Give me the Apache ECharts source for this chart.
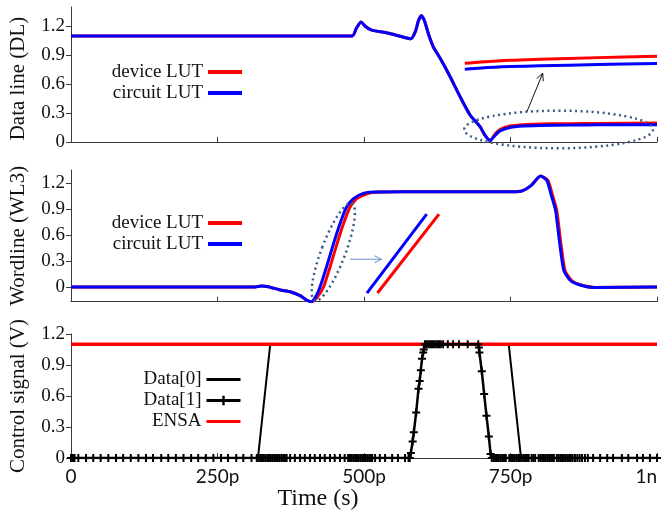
<!DOCTYPE html>
<html><head><meta charset="utf-8">
<script src="https://cdn.jsdelivr.net/npm/echarts@6/dist/echarts.min.js"></script>
<style>html,body{margin:0;padding:0;background:#fff}#c{width:662px;height:512px}</style>
</head><body><div id="c"></div>
<script>
// ---------------- data (time in ps) ----------------
const xTickValues = [0, 250, 500, 750, 1000];
const xTickLabels = ['0', '250p', '500p', '750p', '1n'];
const yTickValues = [0, 0.3, 0.6, 0.9, 1.2];

// Data line (DL)
const dlTimeDevice  = [0, 480, 487, 495, 502, 513, 540, 560, 580, 588, 593, 598, 603, 610, 618, 630, 647, 664, 681, 698, 706, 715, 724, 732, 749, 772, 800, 850, 900, 1000];
const dlDevice      = [1.1, 1.1, 1.18, 1.245, 1.2, 1.16, 1.13, 1.1, 1.07, 1.15, 1.26, 1.31, 1.26, 1.12, 0.99, 0.868, 0.677, 0.47, 0.28, 0.159, 0.073, 0.015, 0.085, 0.13, 0.165, 0.18, 0.186, 0.19, 0.193, 0.197];
const dlTimeCircuit = [0, 480, 487, 495, 502, 513, 540, 560, 580, 588, 593, 598, 603, 610, 618, 630, 647, 664, 681, 698, 706, 715, 724, 732, 749, 772, 800, 850, 900, 1000];
const dlCircuit     = [1.1, 1.1, 1.18, 1.245, 1.2, 1.16, 1.13, 1.1, 1.07, 1.15, 1.26, 1.31, 1.26, 1.12, 0.99, 0.868, 0.677, 0.47, 0.28, 0.159, 0.073, 0.015, 0.07, 0.115, 0.15, 0.165, 0.17, 0.175, 0.178, 0.18];
// magnified inset of the DL tail
const dlZoomTime    = [672, 700, 750, 800, 900, 1000];
const dlZoomDevice  = [0.816, 0.83, 0.848, 0.858, 0.875, 0.89];
const dlZoomCircuit = [0.754, 0.768, 0.782, 0.79, 0.803, 0.815];

// Wordline (WL3)
const wlTimeDevice  = [0, 314, 325, 335, 357, 374, 391, 402, 411, 420, 431, 442, 454, 465, 476, 488, 508, 525, 567, 755, 770, 785, 802, 814, 822, 829, 836, 843, 854, 872, 894, 1000];
const wlDevice      = [0, 0, 0.01, 0.005, -0.035, -0.055, -0.1, -0.15, -0.17, -0.12, 0, 0.23, 0.5, 0.73, 0.92, 1.02, 1.08, 1.095, 1.1, 1.1, 1.11, 1.17, 1.28, 1.23, 1.05, 0.88, 0.5, 0.19, 0.077, 0.02, -0.005, 0];
const wlTimeCircuit = [0, 314, 325, 335, 357, 374, 391, 402, 410, 417, 425, 436, 448, 459, 470, 482, 499, 516, 567, 755, 770, 785, 801, 812, 820, 827, 834, 841, 852, 870, 892, 1000];
const wlCircuit     = [0, 0, 0.01, 0.005, -0.035, -0.055, -0.1, -0.15, -0.17, -0.12, 0, 0.23, 0.5, 0.73, 0.92, 1.02, 1.08, 1.095, 1.1, 1.1, 1.11, 1.17, 1.28, 1.23, 1.05, 0.88, 0.5, 0.19, 0.077, 0.02, -0.005, 0];
// magnified inset of the WL rising edge
const wlZoomTimeDevice  = [523, 628];
const wlZoomDevice      = [-0.07, 0.84];
const wlZoomTimeCircuit = [505, 607];
const wlZoomCircuit     = [-0.07, 0.84];

// Control signals
const d0Time   = [0, 319, 340, 747, 768, 1000];
const d0Value  = [0, 0, 1.1, 1.1, 0, 0];
const ensaTime  = [0, 1000];
const ensaValue = [1.1, 1.1];
const d1Time = [0, 2, 4, 6, 12.5, 25.6, 38, 50.7, 63.7, 76.8, 89, 102, 115, 128, 140, 154, 166, 179, 192, 205, 217, 230, 243, 256, 268, 282, 294, 308,
  317, 320, 323, 326, 329, 332, 335, 338, 341, 344, 347, 350, 353, 356, 359, 362, 365, 368,
  374, 382, 391, 399, 408, 416, 425, 433, 442, 450, 459, 467,
  473, 476, 479, 482, 485, 488, 491, 494, 497, 500, 503, 506, 509, 512, 514,
  519, 527, 536, 548, 558, 570, 576,
  578, 580, 583, 585, 589, 593, 595, 597, 599, 601, 602, 604,
  607, 610, 613, 616, 619, 622, 625, 628, 631, 635, 643, 652, 662, 677, 695,
  696, 697, 701, 705, 709, 713, 716,
  718, 721, 724, 727, 730, 733, 736, 739, 742, 748, 751, 754, 757, 760, 763, 766, 769, 772, 775, 778, 781, 786, 789, 792, 798, 801, 804, 807, 810, 813, 816, 819, 822, 824, 829, 832, 835, 838, 841, 844, 847, 850, 853, 856,
  860, 864, 868, 872, 877, 882, 891, 903, 915, 925, 940, 951, 966, 976, 988, 1000];
const d1Value = [0, 0, 0, 0, 0, 0, 0, 0, 0, 0, 0, 0, 0, 0, 0, 0, 0, 0, 0, 0, 0, 0, 0, 0, 0, 0, 0, 0,
  0, 0, 0, 0, 0, 0, 0, 0, 0, 0, 0, 0, 0, 0, 0, 0, 0, 0,
  0, 0, 0, 0, 0, 0, 0, 0, 0, 0, 0, 0,
  0, 0, 0, 0, 0, 0, 0, 0, 0, 0, 0, 0, 0, 0, 0,
  0, 0, 0, 0, 0, 0, 0,
  0, 0.05, 0.16, 0.25, 0.44, 0.67, 0.745, 0.85, 0.96, 1.02, 1.05, 1.1,
  1.1, 1.1, 1.1, 1.1, 1.1, 1.1, 1.1, 1.1, 1.1, 1.1, 1.1, 1.1, 1.1, 1.1, 1.1,
  1.07, 1.02, 0.84, 0.62, 0.41, 0.21, 0.04,
  0, 0, 0, 0, 0, 0, 0, 0, 0, 0, 0, 0, 0, 0, 0, 0, 0, 0, 0, 0, 0, 0, 0, 0, 0, 0, 0, 0, 0, 0, 0, 0, 0, 0, 0, 0, 0, 0, 0, 0, 0, 0, 0, 0,
  0, 0, 0, 0, 0, 0, 0, 0, 0, 0, 0, 0, 0, 0, 0, 0];

// annotations (data coordinates)
const dlEllipseBox = [[671, 0.325], [993, -0.065]];
const dlArrow = [[778, 0.314], [805, 0.713]];
const wlEllipseCenter = [447.6, 0.404];
const wlArrow = [[476, 0.32], [530, 0.32]];

// ---------------- chart ----------------
const zip = (a, b) => a.map((v, i) => [v, b[i]]);
const RED = '#ff0000', BLUE = '#0000ff', AX = '#3a3a3a', TXT = '#111';
const serif = 'Liberation Serif';

function yAxisCfg(gi, name, min, max, extra) {
  return Object.assign({
    type: 'value', gridIndex: gi, min: min, max: max, name: name,
    nameLocation: 'middle', nameGap: 42,
    nameTextStyle: { fontFamily: serif, fontSize: 21, color: TXT },
    axisLine: { show: true, lineStyle: { color: AX, width: 1 } },
    axisTick: { show: true, inside: false, length: 5, customValues: yTickValues, lineStyle: { color: AX } },
    axisLabel: { customValues: yTickValues, fontFamily: serif, fontSize: 19, color: TXT, margin: 6,
      formatter: v => String(Math.round(v * 10) / 10) },
    splitLine: { show: false }
  }, extra || {});
}
function xAxisCfg(gi, showLabels, extra) {
  return Object.assign({
    type: 'value', gridIndex: gi, min: 0, max: 1000, interval: 250,
    axisLine: { show: true, onZero: false, lineStyle: { color: AX, width: 1 } },
    axisTick: { show: true, inside: true, length: 5, lineStyle: { color: AX } },
    axisLabel: { show: showLabels, fontFamily: 'Lato', fontSize: 19, color: TXT, margin: 9,
      alignMaxLabel: 'right',
      formatter: v => { const i = xTickValues.indexOf(v); return i >= 0 ? xTickLabels[i] : ''; } },
    splitLine: { show: false }
  }, extra || {});
}
function lineSeries(name, gi, data, color, width, extra) {
  return Object.assign({
    type: 'line', name: name, xAxisIndex: gi, yAxisIndex: gi, data: data,
    symbol: 'none', lineStyle: { color: color, width: width }, itemStyle: { color: color },
    animation: false
  }, extra || {});
}
const barIcon4 = 'path://M0,0H34V4H0Z';
const barIcon3 = 'path://M0,0H34V3H0Z';
const legendBase = (data, top, lw) => ({
  data: data, orient: 'vertical', right: 420, top: top, align: 'right', padding: 0,
  itemWidth: 34, itemHeight: 12, itemGap: 1, selectedMode: false, symbolKeepAspect: true,
  lineStyle: { width: lw },
  textStyle: { fontFamily: serif, fontSize: 19, color: TXT, lineHeight: 20 }
});

const plusPath = 'path://M3,0H5V3H8V5H5V8H3V5H0V3H3Z';

const chart = echarts.init(document.getElementById('c'), null, { renderer: 'canvas' });
chart.setOption({
  animation: false,
  backgroundColor: '#fff',
  grid: [
    { left: 71, right: 5, top: 7, height: 135 },
    { left: 71, right: 5, top: 170, height: 131.7 },
    { left: 71, right: 5, top: 334, height: 130 }
  ],
  xAxis: [
    xAxisCfg(0, false),
    xAxisCfg(1, false),
    xAxisCfg(2, true, { name: 'Time (s)', nameLocation: 'middle', nameGap: 24,
      nameTextStyle: { fontFamily: serif, fontSize: 24, color: TXT, padding: [0, 92, 0, 0] } })
  ],
  yAxis: [
    yAxisCfg(0, 'Data line (DL)', 0, 1.4, { nameTextStyle: { fontFamily: serif, fontSize: 21, color: TXT, padding: [0, 8, 0, 0] } }),
    yAxisCfg(1, 'Wordline (WL3)', -0.17, 1.35),
    yAxisCfg(2, 'Control signal (V)', 0, 1.2)
  ],
  legend: [
    legendBase([{ name: 'device LUT', icon: barIcon4 }, { name: 'circuit LUT', icon: barIcon4 }], 62, 4),
    legendBase([{ name: 'device LUT', icon: barIcon4 }, { name: 'circuit LUT', icon: barIcon4 }], 213, 4),
    legendBase([{ name: 'Data[0]', icon: barIcon3 }, 'Data[1]', { name: 'ENSA', icon: barIcon3 }], 369.5, 3)
  ],
  series: [
    lineSeries('device LUT', 0, zip(dlTimeDevice, dlDevice), RED, 3, { smooth: 0.2 }),
    lineSeries('circuit LUT', 0, zip(dlTimeCircuit, dlCircuit), BLUE, 3, { smooth: 0.2 }),
    lineSeries('device LUT inset', 0, zip(dlZoomTime, dlZoomDevice), RED, 3, { smooth: 0.3 }),
    lineSeries('circuit LUT inset', 0, zip(dlZoomTime, dlZoomCircuit), BLUE, 3, { smooth: 0.3 }),

    lineSeries('device LUT', 1, zip(wlTimeDevice, wlDevice), RED, 3, { smooth: 0.2 }),
    lineSeries('circuit LUT', 1, zip(wlTimeCircuit, wlCircuit), BLUE, 3, { smooth: 0.2 }),
    lineSeries('device LUT inset', 1, zip(wlZoomTimeDevice, wlZoomDevice), RED, 3),
    lineSeries('circuit LUT inset', 1, zip(wlZoomTimeCircuit, wlZoomCircuit), BLUE, 3),

    lineSeries('Data[0]', 2, zip(d0Time, d0Value), '#000', 2, { z: 2 }),
    lineSeries('ENSA', 2, zip(ensaTime, ensaValue), RED, 3.5, { z: 3 }),
    lineSeries('Data[1]', 2, zip(d1Time, d1Value), '#000', 2.5, {
      z: 4, symbol: plusPath, symbolSize: 8, showSymbol: true, showAllSymbol: true,
      itemStyle: { color: '#000' }
    })
  ]
});

// annotations through the library's coordinate conversion
const P = (gi, p) => chart.convertToPixel({ gridIndex: gi }, p);
function arrow(p0, p1, color, head) {
  const ang = Math.atan2(p1[1] - p0[1], p1[0] - p0[0]);
  const a1 = ang + Math.PI - 0.45, a2 = ang + Math.PI + 0.45;
  return [
    { type: 'line', silent: true, z: 50, shape: { x1: p0[0], y1: p0[1], x2: p1[0], y2: p1[1] }, style: { stroke: color, lineWidth: 1 } },
    { type: 'polyline', silent: true, z: 50, shape: { points: [[p1[0] + head * Math.cos(a1), p1[1] + head * Math.sin(a1)], p1, [p1[0] + head * Math.cos(a2), p1[1] + head * Math.sin(a2)]] },
      style: { stroke: color, lineWidth: 1, fill: null } }
  ];
}
const e0a = P(0, dlEllipseBox[0]), e0b = P(0, dlEllipseBox[1]);
const e1c = P(1, wlEllipseCenter);
const dots = { stroke: '#3b5b86', lineWidth: 2.5, lineDash: [2, 3.5], fill: null };
chart.setOption({
  graphic: [
    { type: 'ellipse', silent: true, z: 40,
      shape: { cx: (e0a[0] + e0b[0]) / 2, cy: (e0a[1] + e0b[1]) / 2, rx: Math.abs(e0b[0] - e0a[0]) / 2, ry: Math.abs(e0b[1] - e0a[1]) / 2 },
      style: dots },
    { type: 'ellipse', silent: true, z: 40, x: e1c[0], y: e1c[1], rotation: -20.8 * Math.PI / 180,
      shape: { cx: 0, cy: 0, rx: 12, ry: 52 }, style: dots }
  ].concat(arrow(P(0, dlArrow[0]), P(0, dlArrow[1]), '#111', 8))
   .concat(arrow(P(1, wlArrow[0]), P(1, wlArrow[1]), '#6a90d0', 8))
});
</script>
</body></html>
